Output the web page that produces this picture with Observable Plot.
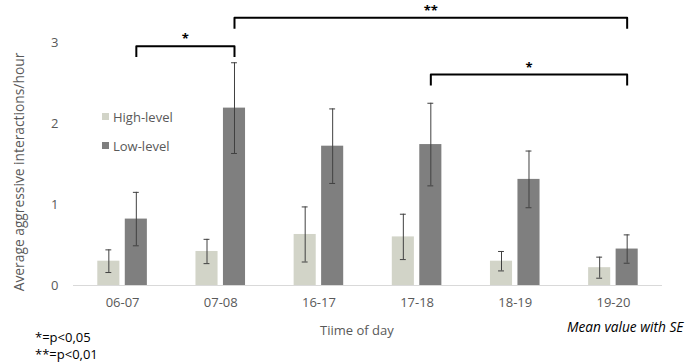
<!DOCTYPE html>
<html><head><meta charset="utf-8">
<script src="https://cdn.jsdelivr.net/npm/d3@7"></script>
<script src="https://cdn.jsdelivr.net/npm/@observablehq/plot@0.6"></script>
<style>
body{margin:0;background:#fff;font-family:"Open Sans",sans-serif;}
#wrap{position:relative;width:690px;height:364px;overflow:hidden;}
.a{position:absolute;font-size:13px;color:#595959;white-space:nowrap;line-height:13px;transform:translateY(-50%);}
.k{color:#000;}
.sw{position:absolute;width:7px;height:7px;}
</style></head><body><div id="wrap"></div>
<script>
// ---- data ----
const categories = ["06-07", "07-08", "16-17", "17-18", "18-19", "19-20"];
const seriesNames = ["High-level", "Low-level"];
const seriesColors = ["#d2d4c8", "#7f7f7f"];
const highMean = [0.30, 0.42, 0.63, 0.60, 0.30, 0.22];
const highSE   = [0.14, 0.15, 0.34, 0.28, 0.12, 0.13];
const lowMean  = [0.82, 2.19, 1.72, 1.74, 1.31, 0.45];
const lowSE    = [0.33, 0.56, 0.46, 0.51, 0.35, 0.175];
const yTicks = [0, 1, 2, 3];
const bracketFrom = ["06-07", "07-08", "17-18"];
const bracketTo   = ["07-08", "19-20", "19-20"];
const bracketLabel = ["*", "**", "*"];
const bracketLevel = [2.955, 3.305, 2.605];
const footnotes = ["*=p<0,05", "**=p<0,01"];
const xTitle = "Tiime of day";
const yTitle = "Average aggressive interactions/hour";
const note = "Mean value with SE";

// ---- layout helpers (offsets within a category group) ----
const off = [-0.14, 0.14];   // series centre offsets
const half = 0.1125;         // half bar width
const cap = 0.03;            // error-bar cap half width
const drop = 0.135;          // bracket leg length

const rows = categories.flatMap((c, i) => [
  {i, series: seriesNames[0], mean: highMean[i], se: highSE[i], c: i + off[0]},
  {i, series: seriesNames[1], mean: lowMean[i], se: lowSE[i], c: i + off[1]}
]);
const idx = c => categories.indexOf(c);
const brackets = bracketFrom.map((f, k) => ({
  k, x1: idx(f) + off[1], x2: idx(bracketTo[k]) + off[1], top: bracketLevel[k], label: bracketLabel[k]
}));
const bracketPts = brackets.flatMap(b => [
  {k: b.k, x: b.x1, y: b.top - drop},
  {k: b.k, x: b.x1, y: b.top},
  {k: b.k, x: b.x2, y: b.top},
  {k: b.k, x: b.x2, y: b.top - drop}
]);

const chart = Plot.plot({
  width: 690, height: 364,
  marginLeft: 73, marginRight: 28, marginTop: 1.5, marginBottom: 79,
  style: {fontFamily: '"Open Sans", sans-serif', fontSize: "13px", color: "#595959", background: "transparent", overflow: "visible"},
  x: {domain: [-0.5, 5.5], ticks: d3.range(categories.length), tickFormat: i => categories[i], tickSize: 0, tickPadding: 12, label: null},
  y: {domain: [0, 3.5], ticks: yTicks, tickFormat: d => String(d), tickSize: 0, tickPadding: 15, label: null},
  color: {domain: seriesNames, range: seriesColors},
  marks: [
    Plot.rectY(rows, {x1: d => d.c - half, x2: d => d.c + half, y1: 0, y2: "mean", fill: "series"}),
    Plot.ruleY([0], {stroke: "#d9d9d9", strokeWidth: 1}),
    Plot.ruleX(rows, {x: "c", y1: d => d.mean - d.se, y2: d => d.mean + d.se, stroke: "#404040", strokeWidth: 1}),
    Plot.ruleY(rows, {x1: d => d.c - cap, x2: d => d.c + cap, y: d => d.mean + d.se, stroke: "#404040", strokeWidth: 1}),
    Plot.ruleY(rows, {x1: d => d.c - cap, x2: d => d.c + cap, y: d => d.mean - d.se, stroke: "#404040", strokeWidth: 1}),
    Plot.line(bracketPts, {x: "x", y: "y", z: "k", stroke: "#000", strokeWidth: 2, strokeLinejoin: "round", strokeLinecap: "butt"}),
    Plot.text(brackets, {x: d => (d.x1 + d.x2) / 2, y: "top", text: "label", dy: -7, fill: "#000", fontSize: 13, fontWeight: "bold"})
  ]
});

const wrap = document.getElementById("wrap");
wrap.appendChild(chart);
chart.style.position = "absolute";
chart.style.left = "0px";
chart.style.top = "0px";

function addText(txt, left, top, cls, extra) {
  const d = document.createElement("div");
  d.className = "a " + (cls || "");
  d.textContent = txt;
  d.style.left = left + "px";
  d.style.top = top + "px";
  if (extra) Object.assign(d.style, extra);
  wrap.appendChild(d);
  return d;
}
// legend
seriesNames.forEach((s, k) => {
  const sw = document.createElement("div");
  sw.className = "sw";
  sw.style.background = seriesColors[k];
  sw.style.left = "102px";
  sw.style.top = (113 + k * 29) + "px";
  wrap.appendChild(sw);
  addText(s, 113, 117 + k * 29);
});
// axis titles
addText(xTitle, 320, 330);
addText(yTitle, 17.5, 172, "", {transform: "translate(-50%,-50%) rotate(-90deg)", fontSize: "13.8px"});
addText(note, 567, 326, "k", {fontStyle: "italic", fontSize: "13.7px"});
footnotes.forEach((t, k) => addText(t, 35, 337 + k * 17, "k"));
</script>
</body></html>
